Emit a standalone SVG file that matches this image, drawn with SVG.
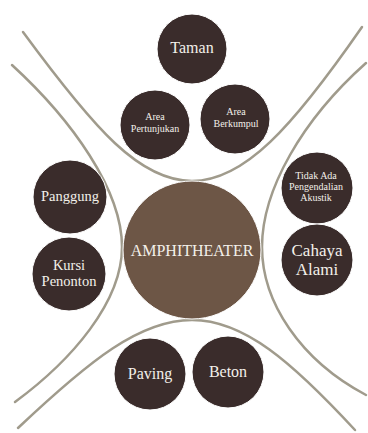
<svg xmlns="http://www.w3.org/2000/svg" width="368" height="433" viewBox="0 0 368 433">
  <style>
    .arc { fill: none; stroke: #a09b8c; stroke-width: 2.5; stroke-linecap: round; }
    .node { fill: #3a2c2b; stroke: #ffffff; stroke-width: 1; }
    .hub { fill: #6d5646; stroke: #ffffff; stroke-width: 1; }
    .s { font-size: 10px; }
    .m { font-size: 14.5px; }
    .l { font-size: 16px; }
    .xl { font-size: 17px; }
  </style>
  <rect width="368" height="433" fill="#ffffff"/>

  <!-- converging arcs -->
  <g id="connectors">
    <path class="arc" d="M23,32 C95,130 140,181 192,181 C244,181 292,128 362,27"/>
    <path class="arc" d="M12,65 C72,120 122,190 122,247 C122,302 72,360 15,402"/>
    <path class="arc" d="M366,63 C302,120 262,190 262,247 C262,302 300,360 366,395"/>
    <path class="arc" d="M18,428 C90,360 140,320 192,320 C244,320 292,362 355,430"/>
  </g>

  <g font-family="'Liberation Serif', 'Times New Roman', serif" fill="#f3f0ea" text-anchor="middle">
    <g id="taman">
      <circle class="node" cx="192" cy="49" r="35"/>
      <text class="l" x="192" y="53">Taman</text>
    </g>
    <g id="area-pertunjukan">
      <circle class="node" cx="155" cy="125" r="35"/>
      <text class="s" x="155" y="120">Area</text>
      <text class="s" x="155" y="132">Pertunjukan</text>
    </g>
    <g id="area-berkumpul">
      <circle class="node" cx="235" cy="119" r="35"/>
      <text class="s" x="236" y="115">Area</text>
      <text class="s" x="236" y="127">Berkumpul</text>
    </g>
    <g id="panggung">
      <circle class="node" cx="70" cy="197" r="37"/>
      <text class="m" x="70" y="201">Panggung</text>
    </g>
    <g id="kursi-penonton">
      <circle class="node" cx="69" cy="274" r="37"/>
      <text class="m" x="69" y="270">Kursi</text>
      <text class="m" x="69" y="286">Penonton</text>
    </g>
    <g id="amphitheater">
      <circle class="hub" cx="192" cy="250" r="69"/>
      <text class="l" x="192" y="256">AMPHITHEATER</text>
    </g>
    <g id="tidak-ada-pengendalian-akustik">
      <circle class="node" cx="317" cy="188" r="36"/>
      <text class="s" x="316" y="179">Tidak Ada</text>
      <text class="s" x="316" y="190">Pengendalian</text>
      <text class="s" x="316" y="201">Akustik</text>
    </g>
    <g id="cahaya-alami">
      <circle class="node" cx="317" cy="260" r="36"/>
      <text class="xl" x="317" y="256">Cahaya</text>
      <text class="xl" x="317" y="275">Alami</text>
    </g>
    <g id="paving">
      <circle class="node" cx="150" cy="374" r="36"/>
      <text class="l" x="150" y="379">Paving</text>
    </g>
    <g id="beton">
      <circle class="node" cx="228" cy="372" r="36"/>
      <text class="l" x="228" y="377">Beton</text>
    </g>
  </g>
</svg>
